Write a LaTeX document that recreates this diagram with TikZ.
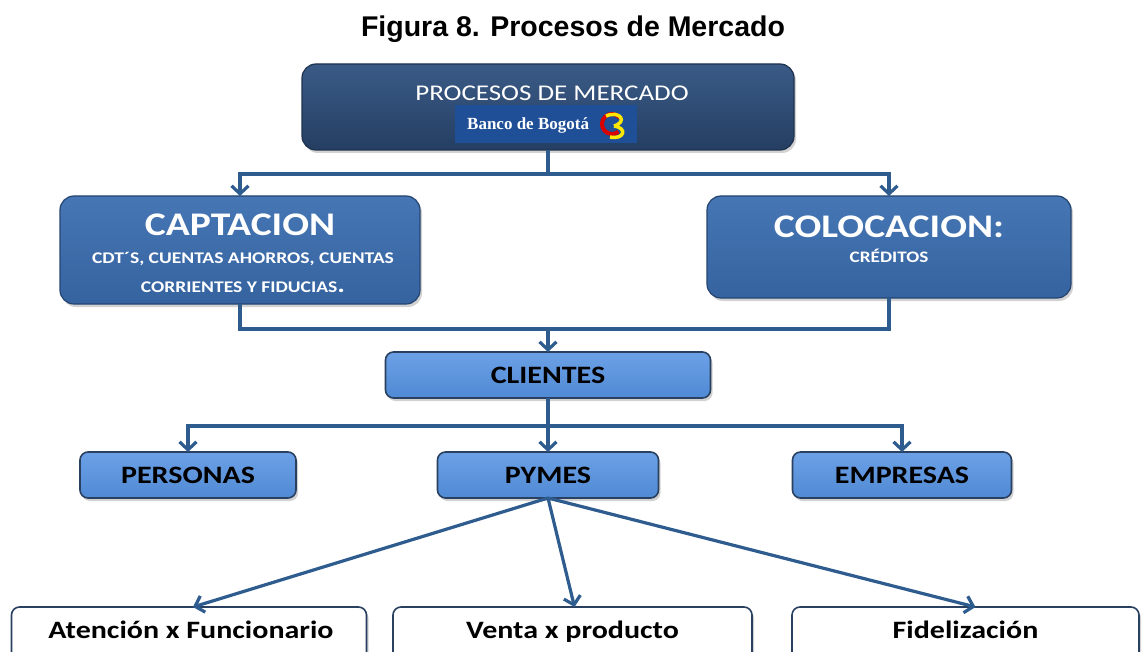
\documentclass[tikz,border=0pt]{standalone}
\usepackage{fontspec}
\setmainfont{Carlito}
\newfontfamily\calfont[FakeStretch=1.2]{Carlito}
\newfontfamily\titlefont{Liberation Sans}
\newfontfamily\logofont{Liberation Serif}
\usetikzlibrary{arrows.meta,shadows,calc}
\definecolor{navytop}{HTML}{3A5B87}
\definecolor{navybot}{HTML}{253E62}
\definecolor{midtop}{HTML}{4676B4}
\definecolor{midbot}{HTML}{3563A0}
\definecolor{lighttop}{HTML}{6CA1E6}
\definecolor{lightbot}{HTML}{508AD4}
\definecolor{linec}{HTML}{2E5C8F}
\definecolor{edgec}{HTML}{2A4060}
\definecolor{logoblue}{HTML}{1F4F96}
\tikzset{
  boxbase/.style={inner sep=0pt, outer sep=0pt, drop shadow={opacity=0.35, shadow xshift=2pt, shadow yshift=-3pt}},
  darkbox/.style={boxbase, rounded corners=14pt, draw=navybot!80!black, line width=1.2pt, top color=navytop, bottom color=navybot},
  midbox/.style={boxbase, rounded corners=14pt, draw=midbot!70!black, line width=1.2pt, top color=midtop, bottom color=midbot},
  lightbox/.style={boxbase, rounded corners=8pt, draw=edgec, line width=1.6pt, top color=lighttop, bottom color=lightbot, font=\calfont\bfseries\fontsize{25}{25}\selectfont, text=black},
  whitebox/.style={boxbase, rounded corners=8pt, draw=edgec, line width=1.6pt, fill=white},
  btext/.style={inner sep=0pt, anchor=base, font=\calfont\bfseries\fontsize{25}{25}\selectfont},
  conn/.style={draw=linec, line width=3.2pt},
  arr/.style={conn, -{Straight Barb[length=8pt,width=17pt]}},
  wtext/.style={text=white, inner sep=0pt}
}
\begin{document}
\begin{tikzpicture}[x=1pt,y=-1pt]
\useasboundingbox (0,0) rectangle (1147,652);
\clip (0,0) rectangle (1147,652);
\fill[white] (0,0) rectangle (1147,652);

% title
\node[inner sep=0pt, font=\titlefont\bfseries\fontsize{28.5}{30}\selectfont] (title) at (573,29) {Figura 8. Procesos de Mercado};

% top box
\node[darkbox, minimum width=492pt, minimum height=86pt] (top) at (548,107) {};
\node[wtext, font=\calfont\fontsize{22.5}{22.5}\selectfont] (toptext) at (552,93) {PROCESOS DE MERCADO};
\node[fill=logoblue, minimum width=182pt, minimum height=38pt, inner sep=0pt] (logo) at (546,124) {};
\node[wtext, font=\logofont\bfseries\fontsize{17}{17}\selectfont, anchor=west] (logotext) at (467,125) {Banco de Bogotá};
\draw[red!85!black, line width=4pt] (612,124) ++(50:10) arc[start angle=50, end angle=320, radius=10];
\draw[yellow!90!orange, line width=3.5pt] (606,116) .. controls (620,110) and (628,122) .. (614,126);
\draw[yellow!90!orange, line width=3.5pt] (614,126) .. controls (628,128) and (624,140) .. (610,137);

% level 2
\node[midbox, minimum width=360pt, minimum height=108pt] (capt) at (240,250) {};
\node[wtext, font=\calfont\bfseries\fontsize{33}{33}\selectfont] (capttitle) at (240,225) {CAPTACION};
\node[wtext, font=\calfont\bfseries\fontsize{16.3}{16}\selectfont] (captl1) at (243,259) {CDT´S, CUENTAS AHORROS, CUENTAS};
\node[wtext, font=\calfont\bfseries\fontsize{16.3}{16}\selectfont] (captl2) at (243,287) {CORRIENTES Y FIDUCIAS{\fontsize{24}{16}\selectfont.}};

\node[midbox, minimum width=364pt, minimum height=102pt] (colo) at (889,247) {};
\node[wtext, font=\calfont\bfseries\fontsize{33}{33}\selectfont] (colotitle) at (889,227) {COLOCACION:};
\node[wtext, font=\calfont\bfseries\fontsize{16}{16}\selectfont] (colol1) at (889,256) {CRÉDITOS};

% level 3
\node[lightbox, minimum width=325pt, minimum height=46pt] (cli) at (548,375) {CLIENTES};

% level 4
\node[lightbox, minimum width=216pt, minimum height=46pt] (per) at (188,475) {PERSONAS};
\node[lightbox, minimum width=221pt, minimum height=46pt] (pym) at (548,475) {PYMES};
\node[lightbox, minimum width=219pt, minimum height=46pt] (emp) at (902,475) {EMPRESAS};

% level 5
\node[whitebox, minimum width=355pt, minimum height=56pt] (aten) at (189,635) {};
\node[btext] (atentext) at (191,638) {Atención x Funcionario};
\node[whitebox, minimum width=359pt, minimum height=56pt] (venta) at (572.5,635) {};
\node[btext] (ventatext) at (572.5,638) {Venta x producto};
\node[whitebox, minimum width=347pt, minimum height=56pt] (fid) at (965.5,635) {};
\node[btext] (fidtext) at (965.5,638) {Fidelización};

% connectors
\coordinate (j1) at (548,174);
\coordinate (j2) at (548,329);
\coordinate (j3) at (548,426);
\draw[conn] (top.south) -- (j1);
\draw[arr] (j1) -| (capt.north);
\draw[arr] (j1) -| (colo.north);
\draw[conn] (capt.south) |- (j2);
\draw[conn] (colo.south) |- (j2);
\draw[arr] (j2) -- (cli.north);
\draw[conn] (cli.south) -- (j3);
\draw[arr] (j3) -| (per.north);
\draw[arr] (j3) -- (pym.north);
\draw[arr] (j3) -| (emp.north);
\draw[arr] (pym.south) -- ($(aten.north)+(4,0)$);
\draw[arr] (pym.south) -- ($(venta.north)+(2,0)$);
\draw[arr] (pym.south) -- ($(fid.north)+(10,0)$);
\end{tikzpicture}
\end{document}
